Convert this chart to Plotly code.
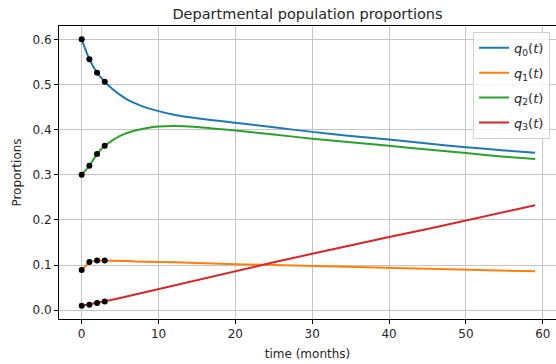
import plotly.graph_objects as go

t_vals = [0, 1, 2, 3, 4, 5, 6, 7, 8, 10, 12, 15, 20, 25, 30, 35, 40, 45, 50, 55, 59]

q0 = [0.600, 0.556, 0.526, 0.506, 0.490, 0.477, 0.466, 0.458, 0.451, 0.441, 0.433, 0.425,
      0.415, 0.405, 0.395, 0.386, 0.378, 0.369, 0.361, 0.354, 0.349]
q1 = [0.089, 0.107, 0.110, 0.110, 0.110, 0.109, 0.109, 0.108, 0.108, 0.107, 0.106, 0.105,
      0.102, 0.100, 0.098, 0.096, 0.094, 0.092, 0.090, 0.088, 0.086]
q2 = [0.300, 0.320, 0.346, 0.364, 0.376, 0.386, 0.393, 0.398, 0.402, 0.407, 0.408, 0.406,
      0.398, 0.389, 0.380, 0.372, 0.364, 0.356, 0.348, 0.340, 0.335]
q3 = [0.010, 0.013, 0.016, 0.019, 0.023, 0.027, 0.031, 0.035, 0.039, 0.046, 0.054, 0.066,
      0.086, 0.106, 0.125, 0.144, 0.162, 0.180, 0.199, 0.217, 0.2325]

# observed data points (black dots)
t_obs = [0, 1, 2, 3]
q0_obs = [0.600, 0.556, 0.526, 0.506]
q1_obs = [0.089, 0.107, 0.110, 0.110]
q2_obs = [0.300, 0.320, 0.346, 0.364]
q3_obs = [0.010, 0.012, 0.016, 0.019]

series = [q0, q1, q2, q3]
observed = [q0_obs, q1_obs, q2_obs, q3_obs]
names = ["<i>q</i><sub>0</sub>(<i>t</i>)", "<i>q</i><sub>1</sub>(<i>t</i>)",
         "<i>q</i><sub>2</sub>(<i>t</i>)", "<i>q</i><sub>3</sub>(<i>t</i>)"]
colors = ["#1f77b4", "#ff7f0e", "#2ca02c", "#d62728"]
shapes = ["spline", "linear", "spline", "linear"]

fig = go.Figure()
for i, (s, name, c, sh) in enumerate(zip(series, names, colors, shapes)):
    fig.add_trace(go.Scatter(x=t_vals, y=s, mode="lines", name=name,
                             line=dict(color=c, width=2, shape=sh, smoothing=0.6),
                             legendgroup=f"g{i}"))
for obs in observed:
    fig.add_trace(go.Scatter(x=t_obs, y=obs, mode="markers", showlegend=False,
                             marker=dict(color="black", size=6)))

axis_common = dict(showline=True, linecolor="black", linewidth=1,
                   showgrid=True, gridcolor="#c4c4c4", gridwidth=1,
                   ticks="outside", ticklen=4, tickcolor="black",
                   tickfont=dict(size=12, color="#262626"), zeroline=False)

fig.update_layout(
    width=556, height=364,
    margin=dict(l=59, r=0, t=26, b=45),
    paper_bgcolor="white", plot_bgcolor="white",
    font=dict(family="DejaVu Sans", color="#262626"),
    title=dict(text="Departmental population proportions", x=0.5, xref="paper",
               xanchor="center", y=0.975, yanchor="top", font=dict(size=14.5, color="#262626")),
    xaxis=dict(range=[-2.95, 61.72], tickvals=[0, 10, 20, 30, 40, 50, 60], mirror=True,
               title=dict(text="time (months)", font=dict(size=12), standoff=9), **axis_common),
    yaxis=dict(range=[-0.0195, 0.6295], tickvals=[0, 0.1, 0.2, 0.3, 0.4, 0.5, 0.6],
               tickformat=".1f", mirror=False,
               title=dict(text="Proportions", font=dict(size=12), standoff=8), **axis_common),
    legend=dict(x=0.988, y=0.98, xanchor="right", yanchor="top",
                bgcolor="rgba(255,255,255,0.8)", bordercolor="#d0d0d0", borderwidth=1,
                font=dict(size=13, color="#262626"), tracegroupgap=5),
)

fig.write_html("out.html", config={"displayModeBar": False},
               post_script="document.body.style.margin='0';document.body.style.overflow='hidden';")
